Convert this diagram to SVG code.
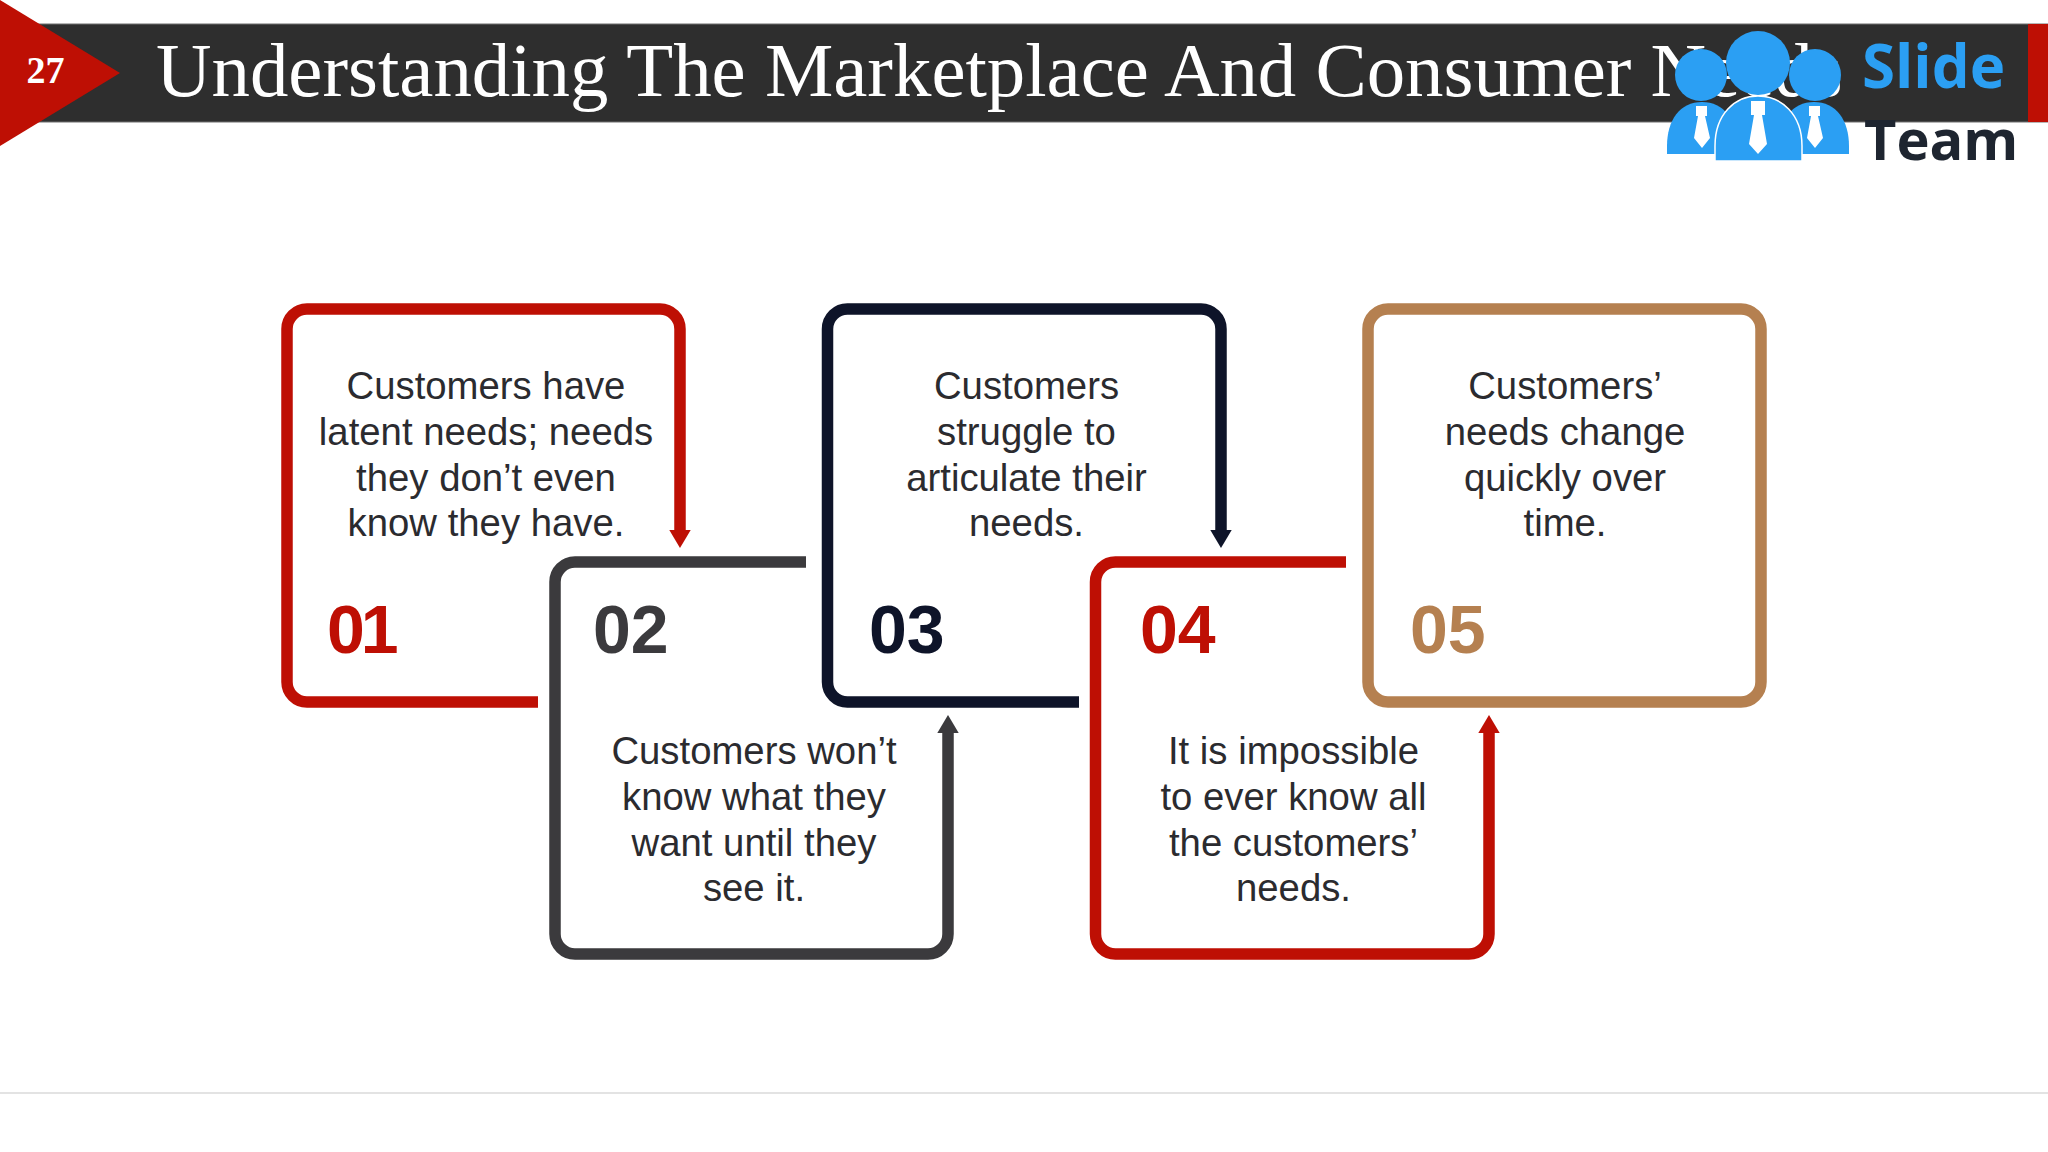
<svg xmlns="http://www.w3.org/2000/svg" width="2048" height="1152" viewBox="0 0 2048 1152">
<style>
.frame{fill:none;stroke-width:11.5;stroke-linejoin:round}
.conn{fill:none;stroke-width:11.5}
.red{stroke:#BE0F04}.dark{stroke:#3B3A3D}.navy{stroke:#0E1429}.tan{stroke:#B58050}
.body{font-family:"Liberation Sans",Arial,sans-serif;font-size:38.3px;fill:#2B2B2F;text-anchor:middle}
.num{font-family:"Liberation Sans",Arial,sans-serif;font-size:68px;font-weight:700}
.logo{fill:#2B9FF3}
.tie{fill:#fff}
</style>
<defs>
<marker id="hRed" markerUnits="userSpaceOnUse" markerWidth="20" markerHeight="24" refX="0" refY="12" orient="auto" viewBox="0 0 20 24"><path d="M0 1.3L18 12L0 22.7Z" fill="#BE0F04"/></marker>
<marker id="hDark" markerUnits="userSpaceOnUse" markerWidth="20" markerHeight="24" refX="0" refY="12" orient="auto" viewBox="0 0 20 24"><path d="M0 1.3L18 12L0 22.7Z" fill="#3B3A3D"/></marker>
<marker id="hNavy" markerUnits="userSpaceOnUse" markerWidth="20" markerHeight="24" refX="0" refY="12" orient="auto" viewBox="0 0 20 24"><path d="M0 1.3L18 12L0 22.7Z" fill="#0E1429"/></marker>
</defs>
<rect width="2048" height="1152" fill="#fff"/>
<g id="header">
<rect x="0" y="24" width="2048" height="98" fill="#2E2E2E" stroke="#6E6E6E" stroke-width="1"/>
<rect x="2028" y="24" width="20" height="98" fill="#BE0F04"/>
<polygon points="0,0 120,73 0,146" fill="#BE0F04"/>
<text x="45.5" y="83" font-family="'Liberation Serif',serif" font-size="38" font-weight="700" fill="#fff" text-anchor="middle">27</text>
<text x="156" y="96" font-family="'Liberation Serif',serif" font-size="76.85" fill="#fff">Understanding The Marketplace And Consumer Needs</text>
</g>
<g id="logo">
<path class="logo" d="M1667 154V146C1667 120 1680 102 1702 102C1724 102 1737 120 1737 146V154Z"/>
<path class="logo" d="M1849 154V146C1849 120 1836 102 1814 102C1792 102 1779 120 1779 146V154Z"/>
<circle class="logo" cx="1701" cy="75" r="26"/>
<circle class="logo" cx="1815" cy="75" r="26"/>
<path class="logo" d="M1715 161V146C1715 114 1735 96 1758 96C1781 96 1802 114 1802 146V161Z" stroke="#fff" stroke-width="1.5"/>
<circle class="logo" cx="1758" cy="63" r="32"/>
<path class="tie" d="M1696 106H1707V116H1705L1710 138L1702 148L1694 138L1698 116H1696Z"/>
<path class="tie" d="M1809 106H1820V116H1818L1823 138L1815 148L1807 138L1811 116H1809Z"/>
<path class="tie" d="M1751 101H1765V115H1762L1767 144L1758 154L1749 144L1754 115H1751Z"/>
<text x="1862" y="88" font-family="'Open Sans',sans-serif" font-size="60" font-weight="700" fill="#2B9FF3">Slide</text>
<text x="1864" y="160" font-family="'Open Sans',sans-serif" font-size="56" font-weight="700" fill="#1E2530">Team</text>
</g>
<g id="node-01">
<path class="frame red" d="M538 702H307A20 20 0 0 1 287 682V329A20 20 0 0 1 307 309H660A20 20 0 0 1 680 329V420"/>
<text class="body"><tspan x="486" y="399">Customers have</tspan><tspan x="486" y="445">latent needs; needs</tspan><tspan x="486" y="491">they don’t even</tspan><tspan x="486" y="536">know they have.</tspan></text>
<text class="num" x="327" y="653" fill="#BE0F04" letter-spacing="-4">01</text>
</g>
<g id="node-02">
<path class="frame dark" d="M806 562H575A20 20 0 0 0 555 582V934A20 20 0 0 0 575 954H928A20 20 0 0 0 948 934V840"/>
<text class="body"><tspan x="754" y="764">Customers won’t</tspan><tspan x="754" y="810">know what they</tspan><tspan x="754" y="856">want until they</tspan><tspan x="754" y="901">see it.</tspan></text>
<text class="num" x="593" y="653" fill="#3B3A3D">02</text>
</g>
<g id="node-03">
<path class="frame navy" d="M1079 702H848A20 20 0 0 1 827.5 682V329A20 20 0 0 1 848 309H1201A20 20 0 0 1 1221 329V420"/>
<text class="body"><tspan x="1026.5" y="399">Customers</tspan><tspan x="1026.5" y="445">struggle to</tspan><tspan x="1026.5" y="491">articulate their</tspan><tspan x="1026.5" y="536">needs.</tspan></text>
<text class="num" x="869" y="653" fill="#0E1429">03</text>
</g>
<g id="node-04">
<path class="frame red" d="M1346 562H1116A20 20 0 0 0 1095.5 582V934A20 20 0 0 0 1116 954H1469A20 20 0 0 0 1489 934V840"/>
<text class="body"><tspan x="1293.5" y="764">It is impossible</tspan><tspan x="1293.5" y="810">to ever know all</tspan><tspan x="1293.5" y="856">the customers’</tspan><tspan x="1293.5" y="901">needs.</tspan></text>
<text class="num" x="1140" y="653" fill="#BE0F04">04</text>
</g>
<g id="node-05">
<rect class="frame tan" x="1368" y="309" width="393" height="393" rx="20"/>
<text class="body"><tspan x="1565" y="399">Customers’</tspan><tspan x="1565" y="445">needs change</tspan><tspan x="1565" y="491">quickly over</tspan><tspan x="1565" y="536">time.</tspan></text>
<text class="num" x="1410" y="653" fill="#B58050">05</text>
</g>
<g id="connectors">
<path class="conn red" d="M680 420V530" marker-end="url(#hRed)"/>
<path class="conn dark" d="M948 840V733" marker-end="url(#hDark)"/>
<path class="conn navy" d="M1221 420V530" marker-end="url(#hNavy)"/>
<path class="conn red" d="M1489 840V733" marker-end="url(#hRed)"/>
</g>
<line id="footer-rule" x1="0" y1="1093" x2="2048" y2="1093" stroke="#DADADA" stroke-width="1.5"/>
</svg>
